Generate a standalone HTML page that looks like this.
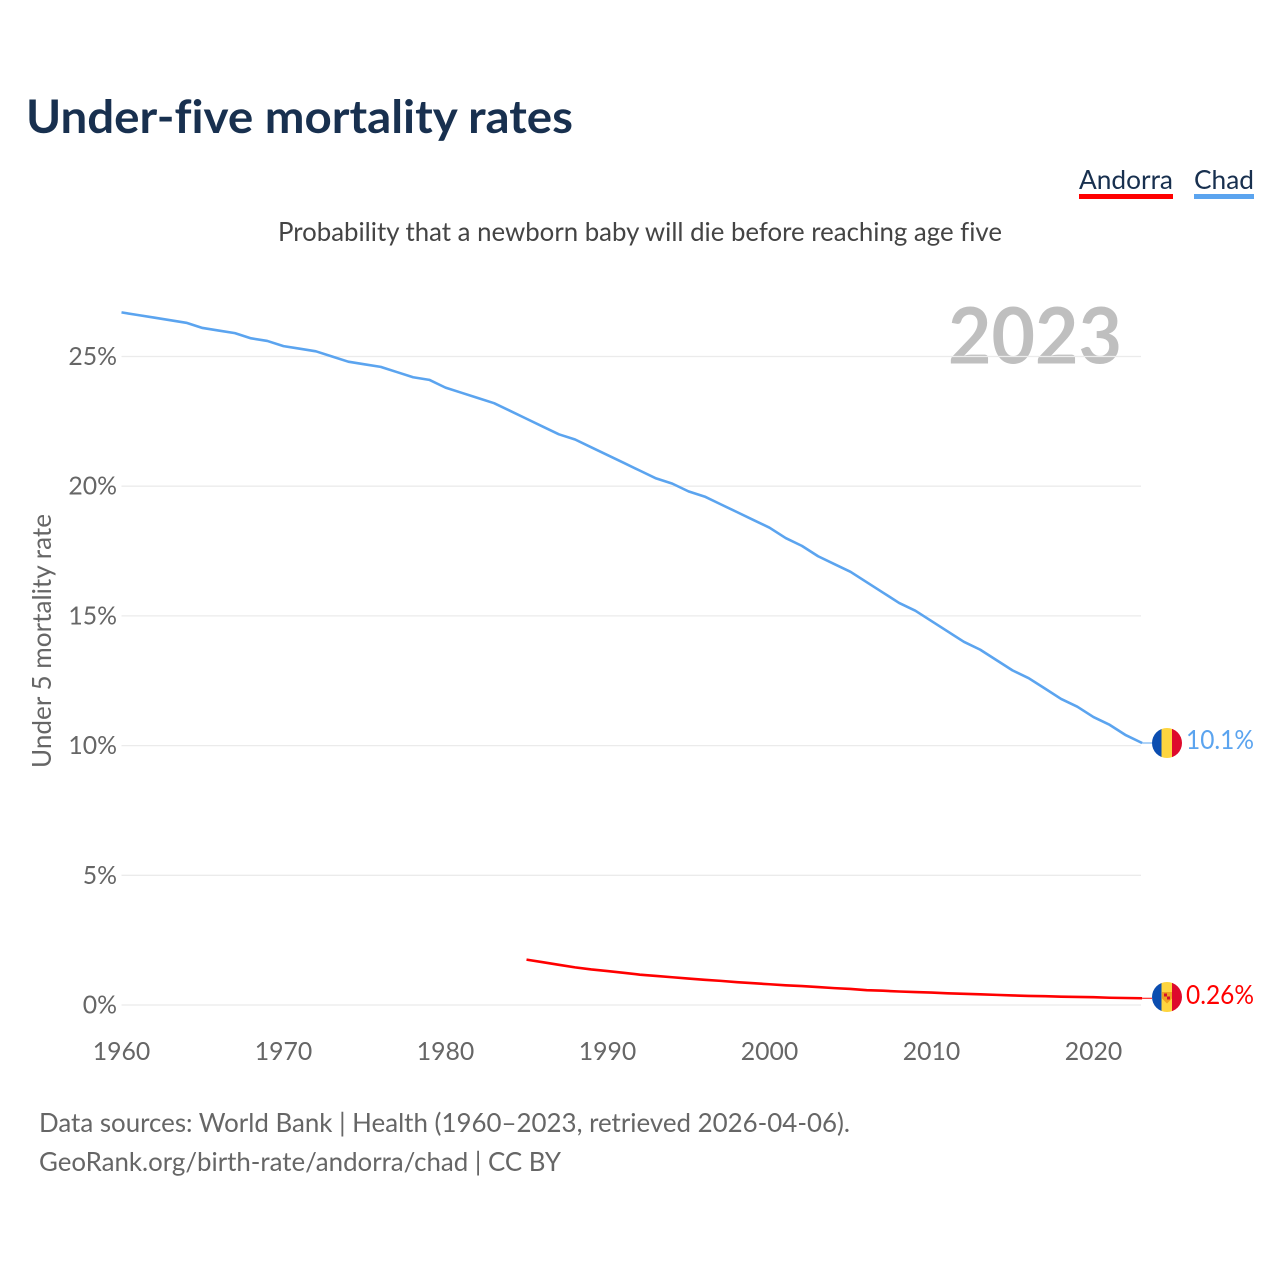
<!DOCTYPE html>
<html lang="en">
<head>
<meta charset="utf-8">
<title>Under-five mortality rates</title>
<style>
html,body{margin:0;padding:0;background:#fff;}
svg{display:block;}
text{font-family:"Lato","Carlito","Liberation Sans",sans-serif;font-variant-ligatures:none;}
</style>
</head>
<body>
<svg id="chart" xmlns="http://www.w3.org/2000/svg" width="1280" height="1280" viewBox="0 0 1280 1280">
  <rect width="1280" height="1280" fill="#fff"/>
  <text x="26" y="133" font-size="46" font-weight="700" fill="#18304f" textLength="547" lengthAdjust="spacingAndGlyphs">Under-five mortality rates</text>
  <text x="1079" y="189" font-size="26.5" fill="#18304f" textLength="94" lengthAdjust="spacingAndGlyphs">Andorra</text>
  <rect x="1079" y="194" width="94" height="5" fill="#ff0000"/>
  <text x="1194" y="189" font-size="26.5" fill="#18304f" textLength="60" lengthAdjust="spacingAndGlyphs">Chad</text>
  <rect x="1194" y="194" width="60" height="5" fill="#5ba4ef"/>
  <text x="278" y="241" font-size="26" fill="#444" textLength="724" lengthAdjust="spacingAndGlyphs">Probability that a newborn baby will die before reaching age five</text>
  <text x="948" y="363.5" font-size="78" font-weight="700" fill="#bfbfbf" textLength="174" lengthAdjust="spacingAndGlyphs">2023</text>
  <text transform="translate(51,768) rotate(-90)" font-size="26" fill="#666" textLength="254" lengthAdjust="spacingAndGlyphs">Under 5 mortality rate</text>
  <g id="grid"></g>
  <g id="yticks"></g>
  <g id="xticks"></g>
  <g id="series"></g>
  <defs>
    <clipPath id="clip-chad"><circle cx="1167" cy="743" r="15"/></clipPath>
    <clipPath id="clip-andorra"><circle cx="1167" cy="997" r="15"/></clipPath>
  </defs>
  <g clip-path="url(#clip-chad)">
    <rect x="1152" y="728" width="9.5" height="30" fill="#0b4db0"/>
    <rect x="1161.5" y="728" width="10.5" height="30" fill="#fed53f"/>
    <rect x="1172" y="728" width="10" height="30" fill="#de0a2c"/>
  </g>
  <g clip-path="url(#clip-andorra)">
    <rect x="1152" y="982" width="9.5" height="30" fill="#0b4db0"/>
    <rect x="1161.5" y="982" width="10.5" height="30" fill="#fed53f"/>
    <rect x="1172" y="982" width="10" height="30" fill="#de0a2c"/>
    <path d="M1162 992h10v6.5l-5 5-5-5z" fill="#f0a020"/>
    <rect x="1164" y="993.5" width="3" height="3" fill="#d3122a"/>
    <rect x="1167" y="996.5" width="3" height="3" fill="#d3122a"/>
  </g>
  <text x="1186" y="749" font-size="26" fill="#5ba4ef" textLength="68" lengthAdjust="spacingAndGlyphs">10.1%</text>
  <text x="1186" y="1004" font-size="26" fill="#ff0000" textLength="68" lengthAdjust="spacingAndGlyphs">0.26%</text>
  <text x="39" y="1132" font-size="26" fill="#666" textLength="811" lengthAdjust="spacingAndGlyphs">Data sources: World Bank | Health (1960–2023, retrieved 2026-04-06).</text>
  <text x="39" y="1171" font-size="26" fill="#666" textLength="522" lengthAdjust="spacingAndGlyphs">GeoRank.org/birth-rate/andorra/chad | CC BY</text>
</svg>
<script>
const chadStartYear = 1960;
const andorraStartYear = 1985;
const chadValues = [26.7,26.6,26.5,26.4,26.3,26.1,26.0,25.9,25.7,25.6,25.4,25.3,25.2,25.0,24.8,24.7,24.6,24.4,24.2,24.1,23.8,23.6,23.4,23.2,22.9,22.6,22.3,22.0,21.8,21.5,21.2,20.9,20.6,20.3,20.1,19.8,19.6,19.3,19.0,18.7,18.4,18.0,17.7,17.3,17.0,16.7,16.3,15.9,15.5,15.2,14.8,14.4,14.0,13.7,13.3,12.9,12.6,12.2,11.8,11.5,11.1,10.8,10.4,10.1];
const andorraValues = [1.75,1.65,1.55,1.45,1.37,1.31,1.24,1.17,1.12,1.07,1.02,0.97,0.93,0.88,0.84,0.80,0.76,0.73,0.69,0.65,0.62,0.57,0.55,0.52,0.50,0.48,0.45,0.43,0.41,0.39,0.37,0.35,0.34,0.32,0.31,0.30,0.28,0.27,0.26];
const yTickValues = [0,5,10,15,20,25];
const xTickYears = [1960,1970,1980,1990,2000,2010,2020];

const NS = 'http://www.w3.org/2000/svg';
function xScale(year){ return 121.5 + (year - 1960) * 16.2; }
function yScale(v){ return 1005 - v * 25.94; }
function make(tag, attrs, parent){
  const el = document.createElementNS(NS, tag);
  for (const k in attrs) el.setAttribute(k, attrs[k]);
  parent.appendChild(el);
  return el;
}
const gridG = document.getElementById('grid');
const yG = document.getElementById('yticks');
const xG = document.getElementById('xticks');
const seriesG = document.getElementById('series');

yTickValues.forEach(function(v){
  const line = make('line', {x1:121.5, x2:1141, y1:yScale(v), y2:yScale(v), stroke:'#ebebeb', 'stroke-width':1.3}, gridG);
  
  
  const t = make('text', {x:117, y:yScale(v)+8.5, 'text-anchor':'end', 'font-size':24.8, fill:'#666'}, yG);
  
  
  t.textContent = v + '%';
});
xTickYears.forEach(function(y){
  const t = make('text', {x:xScale(y), y:1060, 'text-anchor':'middle', 'font-size':24.8, fill:'#666'}, xG);
  
  
  t.textContent = y;
});
function buildPath(values, startYear){
  let d = '';
  values.forEach(function(v, i){
    d += (i ? 'L' : 'M') + xScale(startYear + i).toFixed(2) + ' ' + yScale(v).toFixed(2);
  });
  return d;
}
const chadLine = make('path', {d:buildPath(chadValues, chadStartYear), fill:'none', stroke:'#5ba4ef', 'stroke-width':2.6, 'stroke-linejoin':'round'}, seriesG);


const chadLead = make('line', {x1:xScale(2023), x2:1152, y1:yScale(chadValues[chadValues.length-1]), y2:yScale(chadValues[chadValues.length-1]), stroke:'#5ba4ef', 'stroke-width':1}, seriesG);


const andorraLine = make('path', {d:buildPath(andorraValues, andorraStartYear), fill:'none', stroke:'#ff0000', 'stroke-width':2.6, 'stroke-linejoin':'round'}, seriesG);


const andorraLead = make('line', {x1:xScale(2023), x2:1152, y1:yScale(andorraValues[andorraValues.length-1]), y2:yScale(andorraValues[andorraValues.length-1]), stroke:'#ff0000', 'stroke-width':1}, seriesG);


</script>
</body>
</html>
